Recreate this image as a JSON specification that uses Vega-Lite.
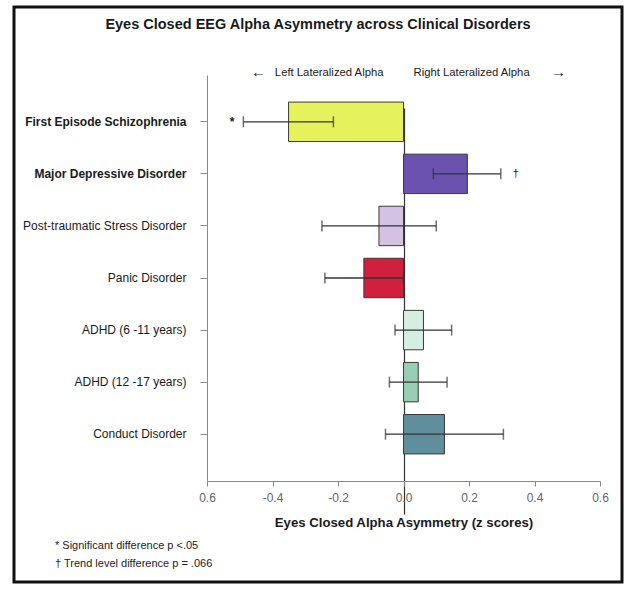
{
  "$schema": "https://vega.github.io/schema/vega-lite/v6.json",
  "autosize": {"type": "none"},
  "width": 608,
  "height": 575,
  "padding": {"left": 14, "top": 7, "right": 17, "bottom": 13},
  "background": "white",
  "view": {"stroke": "#111111", "strokeWidth": 3, "fill": "white"},
  "config": {"font": "Liberation Sans"},
  "title": {
    "text": "Eyes Closed EEG Alpha Asymmetry across Clinical Disorders",
    "fontSize": 14.5,
    "fontWeight": "bold",
    "color": "#1a1a1a",
    "anchor": "middle",
    "frame": "group",
    "offset": -25
  },
  "data": {
    "values": [
      {"disorder": "First Episode Schizophrenia", "mean": -0.351, "lo": -0.489, "hi": -0.214, "sig": "*"},
      {"disorder": "Major Depressive Disorder", "mean": 0.195, "lo": 0.091, "hi": 0.297, "sig": "†"},
      {"disorder": "Post-traumatic Stress Disorder", "mean": -0.075, "lo": -0.249, "hi": 0.1, "sig": ""},
      {"disorder": "Panic Disorder", "mean": -0.121, "lo": -0.24, "hi": 0.0, "sig": ""},
      {"disorder": "ADHD (6 -11 years)", "mean": 0.061, "lo": -0.026, "hi": 0.147, "sig": ""},
      {"disorder": "ADHD (12 -17 years)", "mean": 0.045, "lo": -0.043, "hi": 0.133, "sig": ""},
      {"disorder": "Conduct Disorder", "mean": 0.125, "lo": -0.055, "hi": 0.305, "sig": ""}
    ]
  },
  "layer": [
    {
      "mark": {"type": "bar", "orient": "horizontal", "stroke": "#3a3a3a", "strokeWidth": 1},
      "encoding": {
        "y": {
          "field": "disorder",
          "type": "nominal",
          "sort": null,
          "scale": {"range": [68, 474], "paddingInner": 0.243, "paddingOuter": 0.52},
          "axis": {
            "title": null,
            "orient": "left",
            "offset": -193,
            "domainColor": "#888888",
            "tickColor": "#888888",
            "tickSize": 7,
            "labelPadding": 14,
            "labelFontSize": 12,
            "labelColor": "#1a1a1a",
            "labelFontWeight": {
              "condition": {"test": "datum.value === 'First Episode Schizophrenia' || datum.value === 'Major Depressive Disorder'", "value": "bold"},
              "value": "normal"
            },
            "grid": false
          }
        },
        "x": {
          "field": "mean",
          "type": "quantitative",
          "scale": {"domain": [-0.6, 0.6], "range": [193, 586], "nice": false},
          "axis": {
            "title": "Eyes Closed Alpha Asymmetry (z scores)",
            "orient": "bottom",
            "offset": -101,
            "values": [-0.6, -0.4, -0.2, 0, 0.2, 0.4, 0.6],
            "labelExpr": "datum.value < -0.5 ? '0.6' : (datum.value < 0 ? '-' + format(-datum.value, '.1f') : format(datum.value, '.1f'))",
            "labelFlush": false,
            "labelOverlap": false,
            "tickSize": 5,
            "tickColor": "#888888",
            "domainColor": "#888888",
            "labelColor": "#666666",
            "labelFontSize": 12,
            "labelPadding": 6,
            "titleFontSize": 13.2,
            "titleFontWeight": "bold",
            "titleColor": "#1a1a1a",
            "titlePadding": 13,
            "grid": true,
            "gridColor": {"condition": {"test": "datum.value === 0", "value": "#333333"}, "value": "transparent"},
            "gridWidth": 1.2
          }
        },
        "x2": {"datum": 0},
        "color": {
          "field": "disorder",
          "type": "nominal",
          "legend": null,
          "scale": {
            "domain": ["First Episode Schizophrenia", "Major Depressive Disorder", "Post-traumatic Stress Disorder", "Panic Disorder", "ADHD (6 -11 years)", "ADHD (12 -17 years)", "Conduct Disorder"],
            "range": ["#e6f25c", "#6b52ae", "#d3c2e2", "#d11f3e", "#d6eee2", "#96cdb3", "#5f8e9c"]
          }
        }
      }
    },
    {
      "mark": {"type": "rule", "color": "#333333", "strokeWidth": 1.3},
      "encoding": {
        "y": {"field": "disorder", "type": "nominal", "sort": null},
        "x": {"field": "lo", "type": "quantitative"},
        "x2": {"field": "hi"}
      }
    },
    {
      "mark": {"type": "tick", "orient": "vertical", "size": 11, "thickness": 1.5, "color": "#333333"},
      "encoding": {
        "y": {"field": "disorder", "type": "nominal", "sort": null},
        "x": {"field": "lo", "type": "quantitative"}
      }
    },
    {
      "mark": {"type": "tick", "orient": "vertical", "size": 11, "thickness": 1.5, "color": "#333333"},
      "encoding": {
        "y": {"field": "disorder", "type": "nominal", "sort": null},
        "x": {"field": "hi", "type": "quantitative"}
      }
    },
    {
      "transform": [{"filter": "datum.sig === '*'"}],
      "mark": {"type": "text", "align": "right", "baseline": "middle", "dx": -9, "fontSize": 12, "fontWeight": "bold", "color": "#1a1a1a"},
      "encoding": {
        "y": {"field": "disorder", "type": "nominal", "sort": null},
        "x": {"field": "lo", "type": "quantitative"},
        "text": {"field": "sig"}
      }
    },
    {
      "transform": [{"filter": "datum.sig === '†'"}],
      "mark": {"type": "text", "align": "left", "baseline": "middle", "dx": 12, "fontSize": 11, "color": "#1a1a1a"},
      "encoding": {
        "y": {"field": "disorder", "type": "nominal", "sort": null},
        "x": {"field": "hi", "type": "quantitative"},
        "text": {"field": "sig"}
      }
    },
    {
      "data": {"values": [{"note": "Left Lateralized Alpha"}]},
      "mark": {"type": "text", "align": "right", "baseline": "middle", "dx": -20, "dy": -49, "fontSize": 11.3, "color": "#1a1a1a"},
      "encoding": {
        "y": {"datum": "First Episode Schizophrenia", "type": "nominal"},
        "x": {"datum": 0, "type": "quantitative"},
        "text": {"field": "note"}
      }
    },
    {
      "data": {"values": [{"note": "←"}]},
      "mark": {"type": "text", "align": "center", "baseline": "middle", "dx": -145, "dy": -50, "fontSize": 15, "fontWeight": "bold", "color": "#1a1a1a"},
      "encoding": {
        "y": {"datum": "First Episode Schizophrenia", "type": "nominal"},
        "x": {"datum": 0, "type": "quantitative"},
        "text": {"field": "note"}
      }
    },
    {
      "data": {"values": [{"note": "Right Lateralized Alpha"}]},
      "mark": {"type": "text", "align": "left", "baseline": "middle", "dx": 10, "dy": -49, "fontSize": 11.3, "color": "#1a1a1a"},
      "encoding": {
        "y": {"datum": "First Episode Schizophrenia", "type": "nominal"},
        "x": {"datum": 0, "type": "quantitative"},
        "text": {"field": "note"}
      }
    },
    {
      "data": {"values": [{"note": "→"}]},
      "mark": {"type": "text", "align": "center", "baseline": "middle", "dx": 155, "dy": -50, "fontSize": 15, "fontWeight": "bold", "color": "#1a1a1a"},
      "encoding": {
        "y": {"datum": "First Episode Schizophrenia", "type": "nominal"},
        "x": {"datum": 0, "type": "quantitative"},
        "text": {"field": "note"}
      }
    },
    {
      "data": {"values": [{"note": "* Significant difference p <.05\n† Trend level difference p = .066"}]},
      "mark": {"type": "text", "align": "left", "baseline": "top", "lineBreak": "\n", "lineHeight": 18, "dx": -152, "dy": 106, "fontSize": 11, "color": "#222222"},
      "encoding": {
        "y": {"datum": "Conduct Disorder", "type": "nominal"},
        "x": {"datum": -0.6, "type": "quantitative"},
        "text": {"field": "note"}
      }
    }
  ]
}
